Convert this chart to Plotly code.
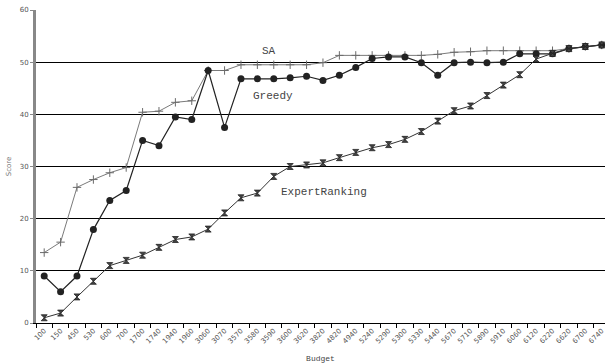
import plotly.graph_objects as go

budgets = ["100", "150", "450", "530", "600", "700", "1700", "1740", "1940", "1960",
           "3060", "3070", "3570", "3580", "3590", "3600", "3620", "3820", "4820", "4940",
           "5240", "5290", "5300", "5330", "5440", "5670", "5710", "5890", "5910", "6060",
           "6120", "6220", "6620", "6700", "6740"]

sa = [13.5, 15.5, 26.0, 27.5, 28.8, 29.8, 40.4, 40.6, 42.3, 42.6,
      48.4, 48.4, 49.5, 49.5, 49.5, 49.5, 49.5, 49.9, 51.3, 51.3,
      51.3, 51.3, 51.3, 51.3, 51.5, 51.9, 52.0, 52.2, 52.2, 52.2,
      52.2, 52.2, 52.6, 53.0, 53.3]

greedy = [9.0, 6.0, 9.0, 17.9, 23.5, 25.4, 35.0, 34.0, 39.5, 39.0,
          48.4, 37.5, 46.8, 46.8, 46.8, 47.0, 47.3, 46.5, 47.5, 49.0,
          50.7, 51.0, 51.0, 49.9, 47.5, 49.9, 50.0, 49.9, 50.0, 51.6,
          51.6, 51.6, 52.6, 53.0, 53.3]

expert = [1.0, 1.9, 5.0, 8.0, 11.0, 12.0, 13.0, 14.5, 16.0, 16.5,
          18.0, 21.1, 24.0, 24.9, 28.1, 30.0, 30.3, 30.7, 31.7, 32.7,
          33.6, 34.2, 35.2, 36.7, 38.7, 40.7, 41.6, 43.6, 45.6, 47.6,
          50.6, 51.7, 52.6, 53.0, 53.3]

y_ticks = [0, 10, 20, 30, 40, 50, 60]

fig = go.Figure()
fig.add_trace(go.Scatter(x=budgets, y=sa, mode="lines+markers", name="SA",
                         line=dict(color="#7a7a7a", width=1),
                         marker=dict(symbol="cross-thin", size=6,
                                     line=dict(color="#6a6a6a", width=1)),
                         cliponaxis=False))
fig.add_trace(go.Scatter(x=budgets, y=greedy, mode="lines+markers", name="Greedy",
                         line=dict(color="#222222", width=1.2),
                         marker=dict(symbol="circle", size=7, color="#222222"),
                         cliponaxis=False))
fig.add_trace(go.Scatter(x=budgets, y=expert, mode="lines+markers", name="ExpertRanking",
                         line=dict(color="#333333", width=1),
                         marker=dict(symbol="hourglass", size=6, color="#444444",
                                     line=dict(color="#222222", width=0.8)),
                         cliponaxis=False))

ann_font = dict(family="Liberation Mono", size=11, color="#444444")
fig.add_annotation(x=13.7, y=52.1, text="SA", showarrow=False, font=ann_font)
fig.add_annotation(x=13.95, y=43.5, text="Greedy", showarrow=False, font=ann_font)
fig.add_annotation(x=17.06, y=25.1, text="ExpertRanking", showarrow=False, font=ann_font)

fig.update_layout(
    width=605, height=364,
    margin=dict(l=36, r=0, t=10, b=41),
    paper_bgcolor="white", plot_bgcolor="white",
    showlegend=False,
    xaxis=dict(type="category", range=[-0.5, 34.2],
               tickangle=-45, tickson="boundaries",
               ticks="outside", ticklen=4, tickcolor="#000000",
               showline=True, linecolor="#000000", linewidth=1,
               showgrid=False, zeroline=False,
               tickfont=dict(family="DejaVu Sans", size=7, color="#555555"),
               title=dict(text="Budget", standoff=11,
                          font=dict(family="Liberation Mono", size=8, color="#444444"))),
    yaxis=dict(range=[0, 60], tickvals=y_ticks,
               ticks="outside", ticklen=3, tickcolor="#888888",
               showline=True, linecolor="#888888", linewidth=3,
               showgrid=True, gridcolor="#000000", gridwidth=1,
               zeroline=False,
               tickfont=dict(family="DejaVu Sans", size=7, color="#555555"),
               title=dict(text="Score", standoff=8,
                          font=dict(family="DejaVu Sans", size=7, color="#777777"))),
)

fig.write_html("out.html")
